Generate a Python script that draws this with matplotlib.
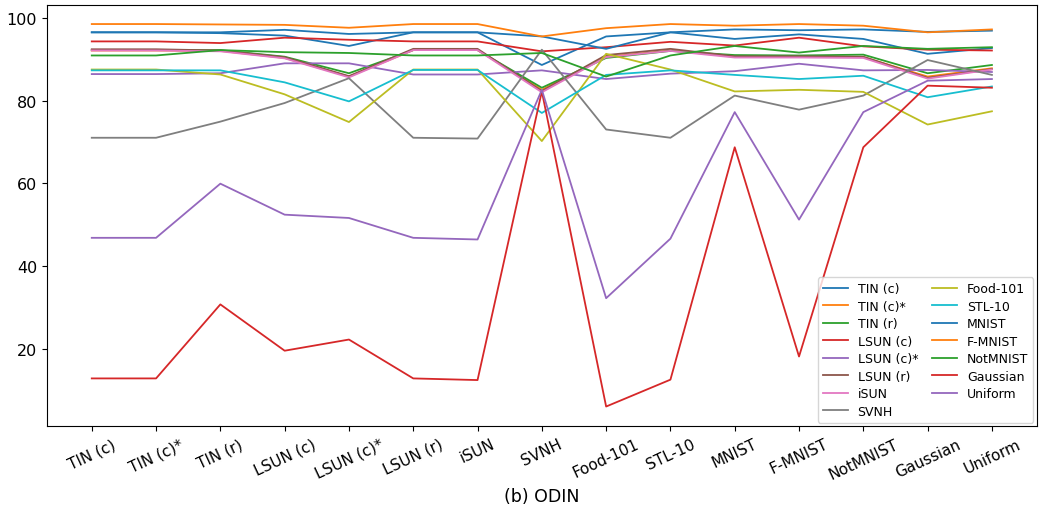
"""
ODIN results per OOD test set, x = OOD set used for tuning
"""

import numpy as np
import matplotlib

matplotlib.use("Agg")
import matplotlib.pyplot as plt

datasets = [
    "TIN (c)", "TIN (c)*", "TIN (r)", "LSUN (c)", "LSUN (c)*", "LSUN (r)", "iSUN",
    "SVNH", "Food-101", "STL-10", "MNIST", "F-MNIST", "NotMNIST", "Gaussian", "Uniform",
]

tin_c = [96.5, 96.5, 96.3, 95.7, 93.2, 96.5, 96.5, 88.6, 95.5, 96.5, 94.9, 96.0, 94.9, 91.3, 92.7]
tin_c_star = [92.1, 92.1, 92.0, 90.3, 85.8, 92.2, 92.2, 82.6, 90.6, 92.1, 90.6, 90.6, 90.5, 85.8, 87.8]
tin_r = [92.2, 92.2, 92.2, 90.6, 86.6, 92.2, 92.2, 83.1, 90.3, 92.0, 91.0, 90.9, 91.1, 86.6, 88.6]
lsun_c = [94.3, 94.3, 93.9, 95.2, 94.7, 94.3, 94.3, 91.9, 92.9, 94.2, 93.3, 95.2, 93.1, 92.3, 92.1]
lsun_c_star = [86.4, 86.4, 86.6, 89.0, 89.0, 86.3, 86.3, 87.3, 85.2, 86.5, 87.1, 88.9, 87.3, 87.4, 86.9]
lsun_r = [92.4, 92.4, 92.1, 90.5, 85.9, 92.5, 92.5, 82.3, 91.0, 92.5, 90.7, 90.7, 90.6, 85.5, 87.6]
isun = [92.1, 92.1, 91.9, 90.2, 85.6, 92.2, 92.2, 82.0, 90.5, 92.0, 90.4, 90.4, 90.3, 85.3, 87.5]
svnh = [71.0, 71.0, 74.9, 79.4, 85.4, 71.0, 70.8, 92.3, 73.0, 71.0, 81.2, 77.8, 81.2, 89.8, 86.2]
food101 = [87.5, 87.5, 86.3, 81.5, 74.8, 87.5, 87.5, 70.2, 91.3, 87.5, 82.2, 82.6, 82.1, 74.2, 77.4]
stl10 = [87.3, 87.3, 87.3, 84.4, 79.8, 87.4, 87.4, 77.0, 86.2, 87.3, 86.2, 85.2, 86.0, 80.8, 83.4]
mnist = [96.5, 96.5, 96.5, 97.1, 96.1, 96.5, 96.5, 95.5, 92.5, 96.5, 97.2, 97.0, 97.2, 96.6, 96.9]
fmnist = [98.5, 98.5, 98.4, 98.3, 97.6, 98.5, 98.5, 95.5, 97.5, 98.5, 98.1, 98.5, 98.1, 96.5, 97.2]
notmnist = [90.9, 90.9, 92.2, 91.7, 91.5, 90.9, 90.9, 91.5, 85.8, 90.9, 93.2, 91.6, 93.2, 92.5, 92.9]
gaussian = [12.8, 12.8, 30.7, 19.5, 22.2, 12.8, 12.4, 82.2, 6.0, 12.5, 68.7, 18.1, 68.7, 83.6, 83.1]
uniform = [46.8, 46.8, 59.9, 52.4, 51.6, 46.8, 46.4, 82.6, 32.2, 46.6, 77.2, 51.2, 77.2, 84.8, 85.2]

series = [
    tin_c, tin_c_star, tin_r, lsun_c, lsun_c_star, lsun_r, isun, svnh,
    food101, stl10, mnist, fmnist, notmnist, gaussian, uniform,
]

fig = plt.figure(figsize=(10.39, 5.10), dpi=100)
ax = fig.add_axes([0.045, 0.162, 0.953, 0.827])

x = np.arange(len(datasets))
for name, vals in zip(datasets, series):
    ax.plot(x, vals, label=name, linewidth=1.3)

ax.set_xticks(x)
ax.set_xticklabels(datasets, rotation=25, fontsize=11)
ax.tick_params(axis="y", labelsize=11.5)
ax.set_yticks([20, 40, 60, 80, 100])
ax.set_ylim(1.2, 103.2)
ax.set_xlabel("(b) ODIN", fontsize=12.5)
ax.legend(ncol=2, loc="lower right", fontsize=9, handlelength=2.0,
          labelspacing=0.36, columnspacing=1.1, borderaxespad=0.3)

fig.savefig("out.png", dpi=100)
